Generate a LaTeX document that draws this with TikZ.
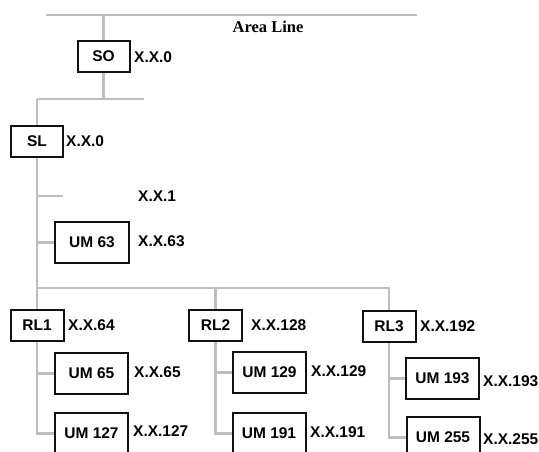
\documentclass[tikz,border=0pt]{standalone}
\usepackage{fontspec}
\setmainfont{Liberation Sans}
\newfontfamily\areafont{Liberation Serif}
\usetikzlibrary{positioning}
\definecolor{BusGray}{HTML}{BEBEBE}
\definecolor{BoxBlack}{HTML}{111111}

\begin{document}
\begin{tikzpicture}[x=1pt, y=-1pt, font=\bfseries\fontsize{15.5}{18}\selectfont,
  unit/.style={draw=BoxBlack, line width=2pt, inner sep=0pt, minimum height=31pt, minimum width=52pt},
  umbox/.style={unit, minimum height=41pt, minimum width=73pt},
  addr/.style={anchor=west, inner sep=0pt},
  bus/.style={draw=BusGray, line width=2.7pt}]
  \useasboundingbox[fill=white] (0,0) rectangle (539,452);
  \clip (0,0) rectangle (539,452);

  % Area line
  \coordinate (areaL) at (46,15);
  \coordinate (areaR) at (417,15);
  \node[font=\areafont\bfseries\fontsize{16.5}{18}\selectfont] (area) at (268,27) {Area Line};

  % Units
  \node[unit] (so) at (103.5,56.5) {SO};
  \node[unit] (sl) at (37,141.5) {SL};
  \node[umbox, minimum width=74pt] (um63) at (92,242.5) {UM 63};
  \node[unit, minimum width=53pt] (rl1) at (37,325.5) {RL1};
  \node[unit, minimum width=53pt] (rl2) at (215.5,325.5) {RL2};
  \node[unit, minimum width=53pt] (rl3) at (389,326.5) {RL3};
  \node[umbox] (um65) at (91.5,373.5) {UM 65};
  \node[umbox] (um127) at (91.5,433.5) {UM 127};
  \node[umbox] (um129) at (269.5,372.5) {UM 129};
  \node[umbox] (um191) at (269,433.5) {UM 191};
  \node[umbox] (um193) at (442.5,378.5) {UM 193};
  \node[umbox] (um255) at (443,437.5) {UM 255};

  % Addresses
  \node[addr] (a0) at (134,57) {X.X.0};
  \node[addr] (a0b) at (66,141) {X.X.0};
  \node[addr] (a1) at (138,196) {X.X.1};
  \node[addr] (a63) at (138,241) {X.X.63};
  \node[addr] (a64) at (68,325) {X.X.64};
  \node[addr] (a128) at (251,325) {X.X.128};
  \node[addr] (a192) at (420,326) {X.X.192};
  \node[addr] (a65) at (134,372) {X.X.65};
  \node[addr] (a127) at (133,431) {X.X.127};
  \node[addr] (a129) at (311,371) {X.X.129};
  \node[addr] (a191) at (310,432) {X.X.191};
  \node[addr] (a193) at (483,381) {X.X.193};
  \node[addr] (a255) at (483,439) {X.X.255};

  % Bus lines
  \coordinate (soBusL) at (37,99);
  \coordinate (soBusR) at (144,99);
  \coordinate (stub1) at (63,196);
  \coordinate (rlBusR) at (389,288);
  \draw[bus] (areaL) -- (areaR);
  \draw[bus] (so.north) -- (so.north |- areaL);
  \draw[bus] (so.south) -- (so.south |- soBusL);
  \draw[bus] (soBusL) -- (soBusR);
  \draw[bus] (soBusL) -- (sl.north);
  \draw[bus] (sl.south) -- (rl1.north);
  \draw[bus] (sl.south |- stub1) -- (stub1);
  \draw[bus] (sl.south |- um63.west) -- (um63.west);
  \draw[bus] (sl.south |- rlBusR) -- (rlBusR) -- (rl3.north);
  \draw[bus] (rl2.north |- rlBusR) -- (rl2.north);
  \foreach \r/\a/\b in {rl1/um65/um127, rl2/um129/um191, rl3/um193/um255} {
    \draw[bus] (\r.south) -- (\r.south |- \b.west) -- (\b.west);
    \draw[bus] (\r.south |- \a.west) -- (\a.west);
  }
\end{tikzpicture}
\end{document}
